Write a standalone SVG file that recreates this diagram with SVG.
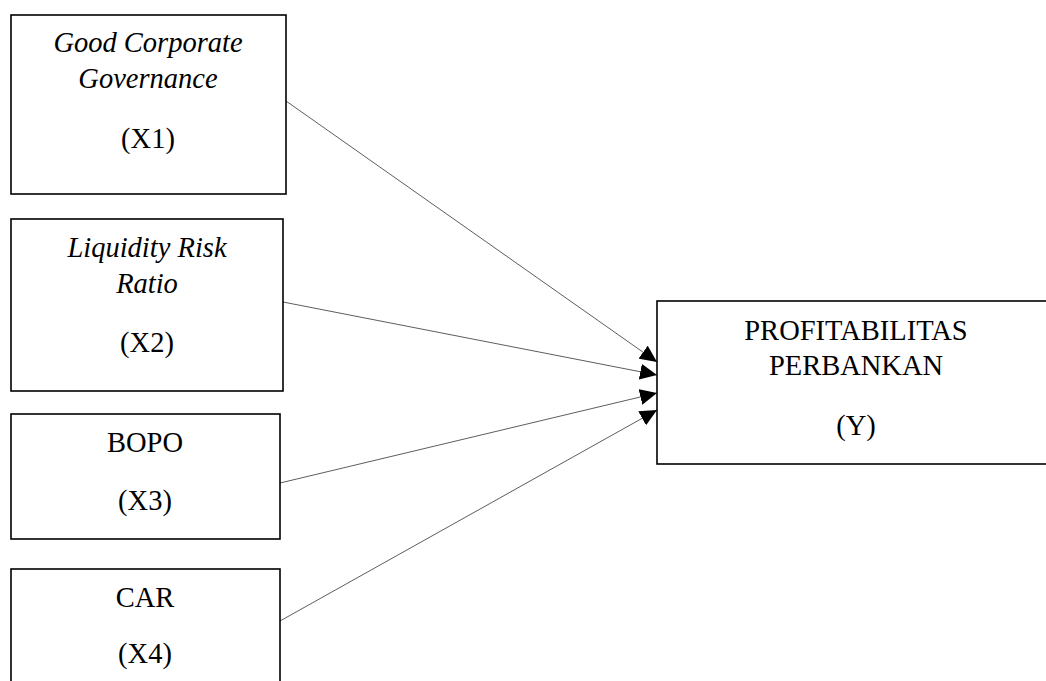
<svg xmlns="http://www.w3.org/2000/svg" width="1046" height="681" viewBox="0 0 1046 681">
<defs>
<style>
.box{fill:#fff;stroke:#000;stroke-width:1.6}
.t{font-family:"Liberation Serif","Times New Roman",serif;font-size:28.5px;fill:#000;text-anchor:middle}
.i{font-style:italic}
.c{stroke:#333;stroke-width:0.8;fill:none;marker-end:url(#ah)}
</style>
<marker id="ah" markerUnits="userSpaceOnUse" markerWidth="18" markerHeight="16" refX="17" refY="8" orient="auto">
<path d="M0,0 L17,8 L0,16 Z" fill="#000"/>
</marker>
</defs>
<rect width="1046" height="681" fill="#fff"/>
<g id="connectors">
<line class="c" x1="286" y1="101" x2="657" y2="362"/>
<line class="c" x1="283" y1="302" x2="657" y2="375"/>
<line class="c" x1="280" y1="483" x2="657" y2="393"/>
<line class="c" x1="280" y1="621" x2="657" y2="410"/>
</g>
<g id="x1">
<rect class="box" x="11" y="15" width="275" height="179"/>
<text class="t i" x="148" y="52">Good Corporate</text>
<text class="t i" x="148" y="88">Governance</text>
<text class="t" x="148" y="148">(X1)</text>
</g>
<g id="x2">
<rect class="box" x="11" y="219" width="272" height="172"/>
<text class="t i" x="147" y="257">Liquidity Risk</text>
<text class="t i" x="147" y="293">Ratio</text>
<text class="t" x="147" y="352">(X2)</text>
</g>
<g id="x3">
<rect class="box" x="11" y="414" width="269" height="125"/>
<text class="t" x="145" y="452">BOPO</text>
<text class="t" x="145" y="510">(X3)</text>
</g>
<g id="x4">
<rect class="box" x="11" y="569" width="269" height="130"/>
<text class="t" x="145" y="607">CAR</text>
<text class="t" x="145" y="663">(X4)</text>
</g>
<g id="y">
<rect class="box" x="657" y="301" width="400" height="163"/>
<text class="t" x="856" y="340">PROFITABILITAS</text>
<text class="t" x="856" y="375">PERBANKAN</text>
<text class="t" x="856" y="435">(Y)</text>
</g>
</svg>
